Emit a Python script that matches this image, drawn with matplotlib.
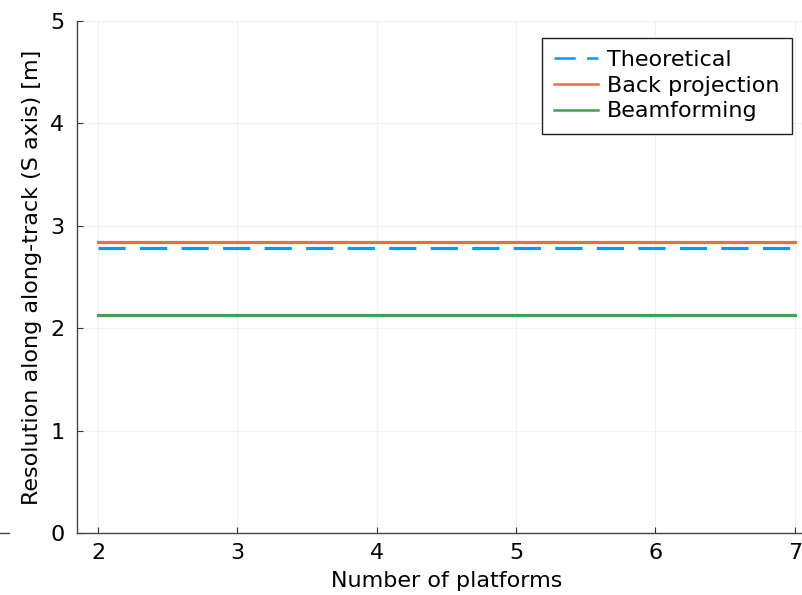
import matplotlib
matplotlib.use("Agg")
import matplotlib.pyplot as plt
from matplotlib.lines import Line2D

# resolution vs number of platforms
platforms = [2, 3, 4, 5, 6, 7]
theoretical = [2.78, 2.78, 2.78, 2.78, 2.78, 2.78]
back_projection = [2.845, 2.845, 2.845, 2.845, 2.845, 2.845]
beamforming = [2.13, 2.13, 2.13, 2.13, 2.13, 2.13]

plt.rcParams['font.family'] = ['DejaVu Sans']

fig = plt.figure(figsize=(8.03, 5.95), dpi=100)
ax = fig.add_axes([0.0959, 0.1042, 0.920, 0.8605])

ax.plot(platforms, theoretical, color='#009AFA', linewidth=2.3,
        dashes=(8.5, 4.5), label='Theoretical')
ax.plot(platforms, back_projection, color='#E26F46', linewidth=2.3,
        label='Back projection')
ax.plot(platforms, beamforming, color='#3DA44D', linewidth=2.3,
        label='Beamforming')

ax.set_xlim(1.849, 7.151)
ax.set_ylim(0, 5)
ax.set_xticks(platforms)
ax.set_yticks([0, 1, 2, 3, 4, 5])
ax.tick_params(direction='in', length=4, width=0.8, color='#333333',
               labelsize=16)
ax.tick_params(axis='x', pad=7)
ax.tick_params(axis='y', pad=9)
ax.grid(True, color='black', alpha=0.05, linewidth=0.8)

for side in ('top', 'right'):
    ax.spines[side].set_visible(False)
for side in ('left', 'bottom'):
    ax.spines[side].set_color('#444444')
    ax.spines[side].set_linewidth(1.0)

ax.set_xlabel('Number of platforms', fontsize=16, labelpad=6)
ax.set_ylabel('Resolution along along-track (S axis) [m]', fontsize=16,
              labelpad=6)

leg = ax.legend(loc='upper right', bbox_to_anchor=(792 / 803, 1 - 38 / 595),
                bbox_transform=fig.transFigure, borderaxespad=0,
                fontsize=16, frameon=True, fancybox=False,
                handlelength=2.0, handletextpad=0.4, labelspacing=0.25,
                borderpad=0.55)
leg.get_frame().set_edgecolor('#222222')
leg.get_frame().set_linewidth(1.0)
leg.get_frame().set_alpha(1)
for handle in leg.get_lines():
    handle.set_linewidth(1.8)

# short tick stub at the far left edge
fig.add_artist(Line2D([0, 9 / 803], [1 - 533 / 595, 1 - 533 / 595],
                      color='#444444', linewidth=1.0,
                      transform=fig.transFigure))

fig.savefig('out.png', dpi=100)
